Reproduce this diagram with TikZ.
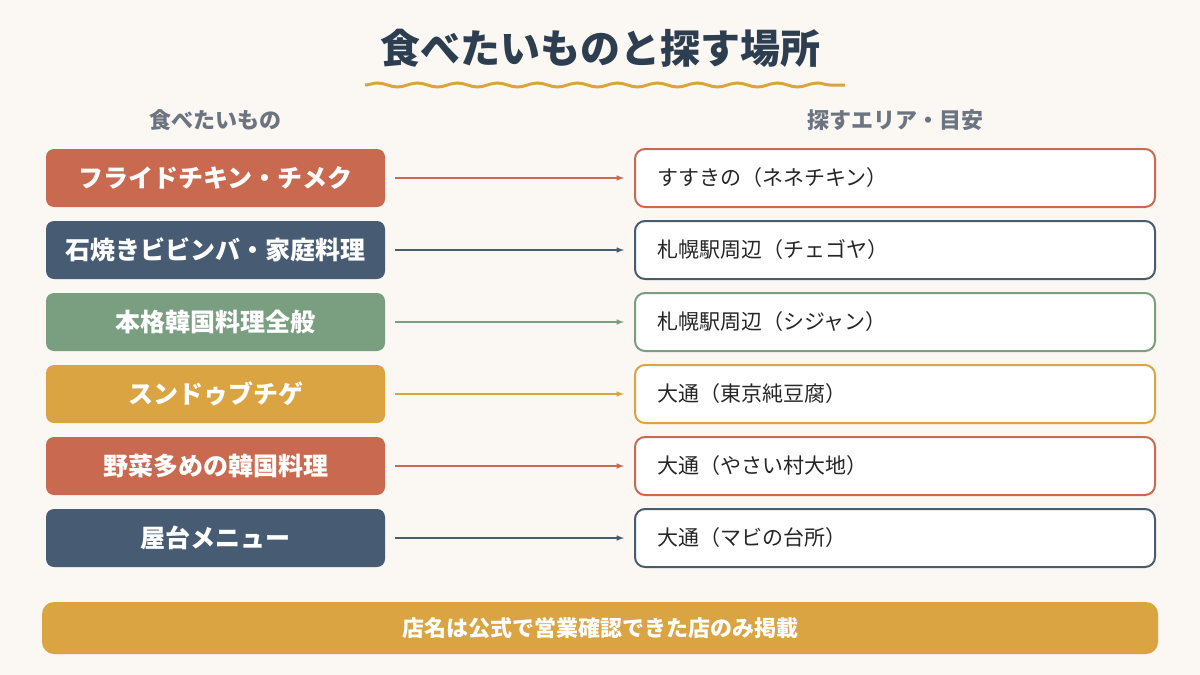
\documentclass[tikz,border=0pt]{standalone}
\usepackage{fontspec}
\setmainfont{Noto Sans CJK JP}
\usetikzlibrary{decorations.pathmorphing}
\definecolor{bg}{HTML}{FBF7F2}
\definecolor{cred}{HTML}{C96A50}
\definecolor{cnavy}{HTML}{475C73}
\definecolor{cgreen}{HTML}{7A9E80}
\definecolor{cgold}{HTML}{D9A441}
\definecolor{ctitle}{HTML}{2D3E50}
\definecolor{chead}{HTML}{6B7480}
\begin{document}
\begin{tikzpicture}[x=1pt,y=-1pt,
  lbox/.style={rounded corners=8pt,minimum width=339pt,minimum height=58pt,text=white,font=\fontsize{25}{28}\selectfont\bfseries,inner sep=0},
  rbox/.style={rounded corners=10pt,minimum width=520pt,minimum height=58pt,fill=white,line width=2pt,font=\fontsize{21}{24}\selectfont,text=black!85,inner sep=0,text width=476pt,align=left},
  arr/.style={-latex,line width=1.5pt}]
\fill[bg] (0,0) rectangle (1200,675);
\node[font=\fontsize{40}{44}\selectfont\bfseries,text=ctitle] (title) at (600,48) {食べたいものと探す場所};
\draw[cgold,line width=3pt,decorate,decoration={snake,amplitude=2pt,segment length=40pt}] (365,85) -- (845,85);
\node[font=\fontsize{22}{24}\selectfont\bfseries,text=chead] (h1) at (215,120) {食べたいもの};
\node[font=\fontsize{22}{24}\selectfont\bfseries,text=chead] (h2) at (895,120) {探すエリア・目安};
\foreach \i/\y/\c/\a/\b in {1/178/cred/フライドチキン・チメク/すすきの（ネネチキン）,
  2/250/cnavy/石焼きビビンバ・家庭料理/札幌駅周辺（チェゴヤ）,
  3/322/cgreen/本格韓国料理全般/札幌駅周辺（シジャン）,
  4/394/cgold/スンドゥブチゲ/大通（東京純豆腐）,
  5/466/cred/野菜多めの韓国料理/大通（やさい村大地）,
  6/538/cnavy/屋台メニュー/大通（マビの台所）}{
  \node[lbox,fill=\c] (l\i) at (215.5,\y) {\a};
  \node[rbox,draw=\c] (r\i) at (895,\y) {\b};
  \draw[arr,\c] ([xshift=10pt]l\i.east) -- ([xshift=-10pt]r\i.west);
}
\node[fill=cgold,rounded corners=12pt,minimum width=1116pt,minimum height=52pt,text=white,font=\fontsize{22}{24}\selectfont\bfseries] (note) at (600,628) {店名は公式で営業確認できた店のみ掲載};
\end{tikzpicture}
\end{document}
